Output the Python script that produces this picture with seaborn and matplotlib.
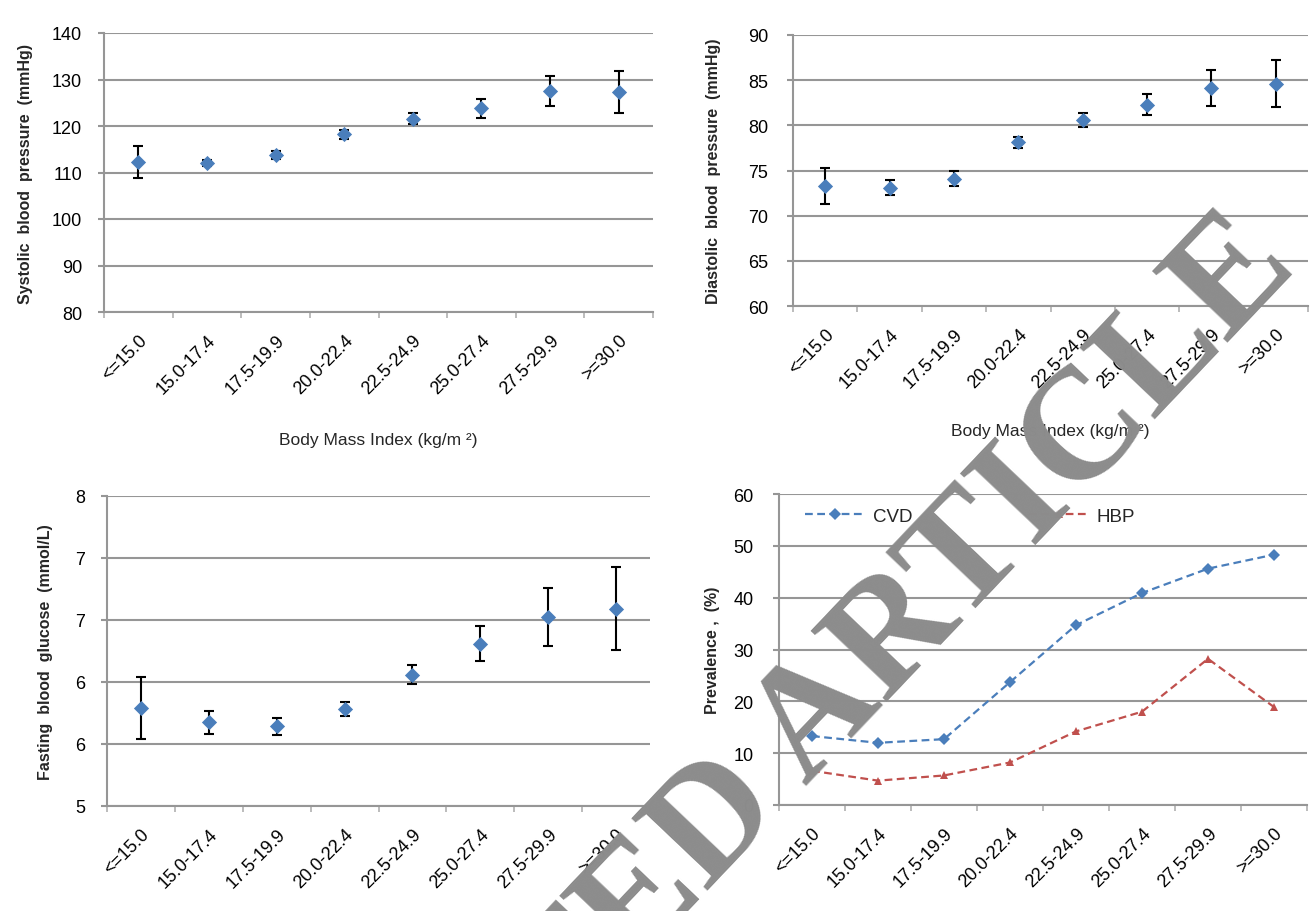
import matplotlib
matplotlib.use("Agg")
import matplotlib.pyplot as plt
import seaborn as sns
import numpy as np
import pandas as pd

# BMI groups shared by all four panels
bmi_groups = ["<=15.0", "15.0-17.4", "17.5-19.9", "20.0-22.4",
              "22.5-24.9", "25.0-27.4", "27.5-29.9", ">=30.0"]

# mean +/- error
sbp_mean = [112.2, 112.1, 113.7, 118.2, 121.6, 123.8, 127.6, 127.3]
sbp_err = [3.4, 0.6, 0.9, 1.0, 1.2, 2.0, 3.2, 4.5]
dbp_mean = [73.3, 73.1, 74.1, 78.1, 80.6, 82.3, 84.1, 84.6]
dbp_err = [2.0, 0.8, 0.8, 0.6, 0.8, 1.15, 2.0, 2.6]
fbg_mean = [5.95, 5.81, 5.77, 5.94, 6.27, 6.57, 6.83, 6.91]
fbg_err = [0.30, 0.11, 0.085, 0.065, 0.09, 0.17, 0.28, 0.40]

# prevalence (%)
cvd_prev = [13.3, 12.0, 12.7, 23.7, 34.7, 40.9, 45.6, 48.3]
hbp_prev = [6.6, 4.7, 5.7, 8.2, 14.2, 18.0, 28.2, 18.9]

sns.set_theme(style="white")
plt.rcParams["font.family"] = ["Liberation Sans", "DejaVu Sans"]

BLUE = "#4a7ebb"
RED = "#c0504d"
GRID = "#969696"

W, H = 1310, 912
fig = plt.figure(figsize=(W / 100, H / 100), dpi=100)


def box(l, r, t, b):
    return [l / W, 1 - b / H, (r - l) / W, (b - t) / H]


def style_axis(ax, ylim, yticks, ylabel, lab_x, ypad, fmt="{:.0f}"):
    ax.set_xlim(-0.5, 7.5)
    ax.set_ylim(*ylim)
    ax.set_yticks(yticks)
    ax.set_yticklabels([fmt.format(v) for v in yticks])
    ax.yaxis.grid(True, color=GRID, linewidth=1.5)
    ax.set_axisbelow(True)
    for s in ["top", "right"]:
        ax.spines[s].set_visible(False)
    for s in ["left", "bottom"]:
        ax.spines[s].set_color(GRID)
        ax.spines[s].set_linewidth(1.5)
    ax.set_xticks(range(len(bmi_groups)))
    ax.set_xticklabels(bmi_groups, rotation=45, ha="right", va="top",
                       rotation_mode="anchor")
    ax.set_xticks(np.arange(-0.5, 8, 1), minor=True)
    ax.tick_params(axis="x", which="major", length=0, pad=14, labelsize=13,
                   labelcolor="black")
    ax.tick_params(axis="x", which="minor", bottom=True, length=4.5,
                   width=1.2, color="#b0b0b0")
    ax.tick_params(axis="y", left=True, length=4.3, width=1.5, color=GRID,
                   pad=ypad, labelsize=13, labelcolor="black")
    ax.set_ylabel(ylabel, fontsize=11.5, fontweight="bold")
    ax.yaxis.set_label_coords(lab_x, 0.5)
    ax.set_xlabel("")


def error_panel(ax, means, errs):
    df = pd.DataFrame({"bmi": bmi_groups, "mean": means, "err": errs})
    ax.errorbar(df["bmi"], df["mean"], yerr=df["err"], fmt="none",
                ecolor="black", elinewidth=1.5, capsize=3.6, capthick=1.5,
                zorder=2)
    sns.scatterplot(data=df, x="bmi", y="mean", marker="D", s=60,
                    color=BLUE, linewidth=0, ax=ax, zorder=3)


# systolic
ax1 = fig.add_axes(box(104, 653, 34, 313))
error_panel(ax1, sbp_mean, sbp_err)
style_axis(ax1, (80, 140), np.arange(80, 141, 10),
           "Systolic  blood  pressure  (mmHg)", -0.13, 11.5)
ax1.set_xlabel("Body Mass Index (kg/m \u00b2)", fontsize=12.5, labelpad=25)

# diastolic
ax2 = fig.add_axes(box(793, 1308, 36, 307))
error_panel(ax2, dbp_mean, dbp_err)
style_axis(ax2, (60, 90), np.arange(60, 91, 5),
           "Diastolic  blood  pressure  (mmHg)", -0.14, 13.5)
ax2.set_xlabel("Body Mass Index (kg/m \u00b2)", fontsize=12.5, labelpad=23)

# fasting glucose (Excel shows 0-decimal labels on a 0.6 step)
ax3 = fig.add_axes(box(107, 650, 497, 807))
error_panel(ax3, fbg_mean, fbg_err)
style_axis(ax3, (5, 8), np.linspace(5, 8, 6),
           "Fasting  blood  glucose  (mmol/L)", -0.1, 11.5)

# prevalence
ax4 = fig.add_axes(box(779, 1307, 495, 806))
prev = pd.DataFrame({
    "bmi": bmi_groups * 2,
    "value": cvd_prev + hbp_prev,
    "series": ["CVD"] * 8 + ["HBP"] * 8,
})
sns.lineplot(data=prev, x="bmi", y="value", hue="series", style="series",
             palette=[BLUE, RED], markers=["D", "^"], dashes=[(3.5, 2), (3.5, 2)],
             markersize=6, markeredgewidth=0, linewidth=1.6, sort=False, ax=ax4)
style_axis(ax4, (0, 60), np.arange(0, 61, 10), "Prevalence ,  (%)", -0.112, 14)
h, l = ax4.get_legend_handles_labels()
ax4.legend(h, l, ncol=2, frameon=False, loc="center left",
           bbox_to_anchor=(0.05, 0.929), borderaxespad=0, borderpad=0,
           handlelength=3.2, handletextpad=0.4, columnspacing=6.2,
           fontsize=13.5)

# watermark
fig.text(0.513, 0.043, "RETRACTED ARTICLE", rotation=46.5, fontsize=114,
         family="Liberation Serif", fontweight="bold", color="#8c8c8c",
         ha="center", va="center", rotation_mode="anchor", zorder=10)

fig.savefig("out.png", dpi=100)
